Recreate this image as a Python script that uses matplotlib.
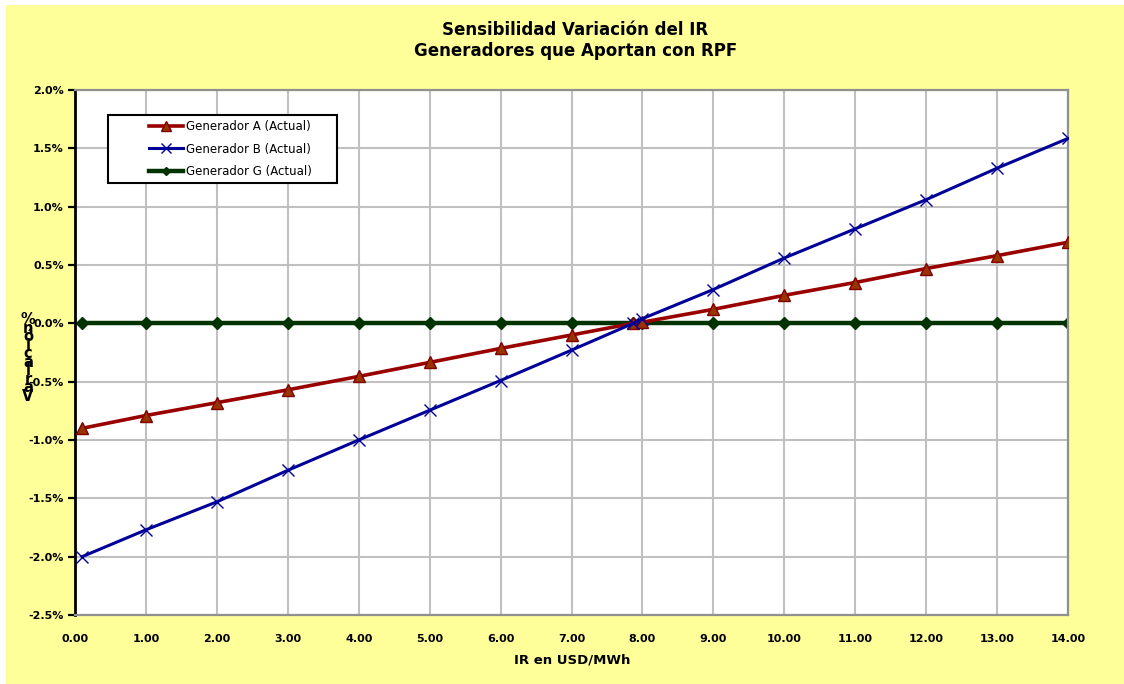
import matplotlib
matplotlib.use("Agg")
import matplotlib.pyplot as plt
import matplotlib.ticker as mticker
from matplotlib.patches import Rectangle

# IR en USD/MWh
ir = [0.1, 1, 2, 3, 4, 5, 6, 7, 7.87, 8, 9, 10, 11, 12, 13, 14]
# variacion en %
gen_a = [-0.90, -0.79, -0.68, -0.57, -0.455, -0.335, -0.215, -0.10, 0.0, 0.01,
         0.12, 0.24, 0.35, 0.47, 0.58, 0.695]
gen_b = [-2.0, -1.77, -1.53, -1.26, -1.0, -0.745, -0.49, -0.23, 0.0, 0.04,
         0.29, 0.56, 0.81, 1.06, 1.33, 1.585]
gen_g = [0.0] * len(ir)

W, H = 1124, 684
BG = "#FFFF99"
RED = "#990000"
BLUE = "#000099"
GREEN = "#003300"
GRID = "#C0C0C0"

fig = plt.figure(figsize=(W / 100, H / 100), dpi=100)
fig.patch.set_facecolor("white")
fig.patches.append(Rectangle((6 / W, 0), 1, 1 - 5 / H, transform=fig.transFigure,
                             facecolor=BG, edgecolor="none", zorder=-10))

ax = fig.add_axes([75 / W, 69 / H, 993 / W, 525 / H])
ax.set_facecolor("white")

ax.plot(ir, gen_a, color=RED, lw=2.6, marker="^", ms=9, mfc="#993300", mec="#800000",
        label="Generador A (Actual)", zorder=3)
ax.plot(ir, gen_b, color=BLUE, lw=2.2, marker="x", ms=9, mew=1.0, mec=BLUE,
        label="Generador B (Actual)", zorder=4)
ax.plot(ir, gen_g, color=GREEN, lw=3.2, marker="D", ms=6, mfc=GREEN, mec=GREEN,
        label="Generador G (Actual)", zorder=2)

ax.set_xlim(0, 14)
ax.set_ylim(-2.5, 2.0)
ax.xaxis.set_major_locator(mticker.MultipleLocator(1))
ax.yaxis.set_major_locator(mticker.MultipleLocator(0.5))
ax.xaxis.set_major_formatter(mticker.FuncFormatter(lambda v, p: f"{v:.2f}"))
ax.yaxis.set_major_formatter(mticker.FuncFormatter(lambda v, p: f"{v:.1f}%"))
ax.grid(True, color=GRID, lw=1.5, zorder=0)
ax.set_axisbelow(True)

for s in ["top", "right", "bottom"]:
    ax.spines[s].set_color("#909090")
    ax.spines[s].set_linewidth(1.6)
ax.spines["left"].set_color("black")
ax.spines["left"].set_linewidth(2)

ax.tick_params(axis="y", direction="out", length=5, width=1.6, color="black",
               labelsize=8, pad=3)
ax.tick_params(axis="x", length=0, labelsize=8, pad=14)
for lab in ax.get_xticklabels() + ax.get_yticklabels():
    lab.set_fontweight("bold")

# legend: Excel-style box drawn separately, entries placed inside it
box = Rectangle((108 / W, 1 - 183 / H), 229 / W, 68 / H, transform=fig.transFigure,
                facecolor="white", edgecolor="black", lw=1.5, zorder=5, clip_on=False)
ax.add_patch(box)
leg = ax.legend(loc="center left", bbox_to_anchor=(143 / W, 1 - 149 / H),
                bbox_transform=fig.transFigure, fontsize=8.5, frameon=False,
                handlelength=2.9, borderpad=0, labelspacing=0.78, handletextpad=0.25,
                markerscale=0.75)
leg.set_zorder(6)

fig.text(0.512, 1 - 30 / H, "Sensibilidad Variación del IR", ha="center", va="center",
         fontsize=12, fontweight="bold")
fig.text(0.512, 1 - 51 / H, "Generadores que Aportan con RPF", ha="center", va="center",
         fontsize=12, fontweight="bold")
fig.text(572 / W, 1 - 660 / H, "IR en USD/MWh", ha="center", va="center",
         fontsize=9.5, fontweight="bold")
fig.text(28 / W, 1 - 358 / H, "\n".join(reversed("Variación %".replace(" ", ""))),
         ha="center", va="center", fontsize=10.5, fontweight="bold", linespacing=0.46)

fig.savefig("out.png", dpi=100, facecolor=fig.get_facecolor())
